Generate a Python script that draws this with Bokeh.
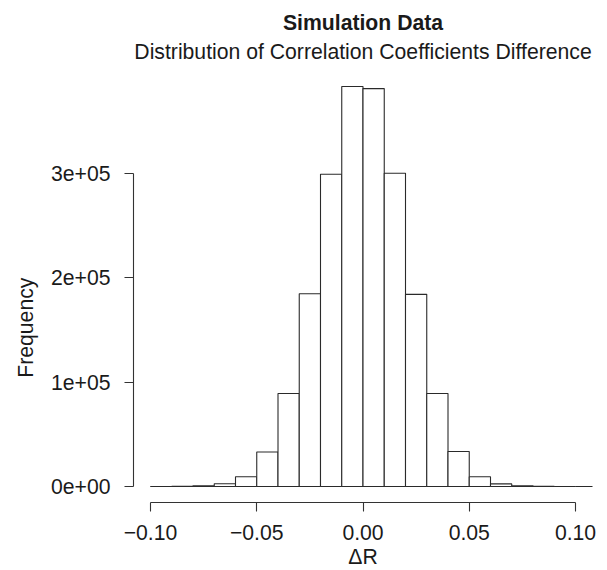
from bokeh.plotting import figure
from bokeh.models import Range1d, FixedTicker, Title
from bokeh.embed import file_html
from bokeh.resources import INLINE

# ---- data ----
bin_left = [-0.10, -0.09, -0.08, -0.07, -0.06, -0.05, -0.04, -0.03, -0.02, -0.01,
            0.00, 0.01, 0.02, 0.03, 0.04, 0.05, 0.06, 0.07, 0.08, 0.09, 0.10]
bin_width = 0.01
counts = [20, 110, 620, 2600, 9400, 33000, 89000, 184500, 299000, 383000,
          381000, 300000, 184000, 89000, 33500, 9400, 2500, 600, 100, 20, 0]

x_ticks = [-0.10, -0.05, 0.00, 0.05, 0.10]
x_tick_labels = ["\u22120.10", "\u22120.05", "0.00", "0.05", "0.10"]
y_ticks = [0, 100000, 200000, 300000]
y_tick_labels = ["0e+00", "1e+05", "2e+05", "3e+05"]

title_main = "Simulation Data"
title_sub = "Distribution of Correlation Coefficients Difference"
x_label = "\u0394R"
y_label = "Frequency"

FONT = "Liberation Sans"
FS = "21.2px"
INK = "#1a1a1a"

ymax = max(counts)
pad = 0.04 * ymax

p = figure(width=599, height=570, output_backend="svg", toolbar_location=None,
           x_range=Range1d(-0.108, 0.108), y_range=Range1d(-pad, ymax + pad),
           min_border_left=133, min_border_right=7, min_border_top=70,
           min_border_bottom=68)
p.outline_line_color = None
p.xgrid.visible = False
p.ygrid.visible = False
p.background_fill_color = "white"
p.border_fill_color = "white"

right = [l + bin_width for l in bin_left]
p.quad(left=bin_left, right=right, bottom=0, top=counts,
       fill_color="white", line_color="#2a2a2a", line_width=1.1)

for ax in (p.xaxis[0], p.yaxis[0]):
    ax.major_tick_out = 9
    ax.major_tick_in = 0
    ax.minor_tick_line_color = None
    ax.axis_line_color = "#333333"
    ax.major_tick_line_color = "#333333"
    ax.axis_line_width = 1.1
    ax.major_tick_line_width = 1.1
    ax.major_label_text_font = FONT
    ax.major_label_text_font_size = FS
    ax.major_label_text_color = INK
    ax.axis_label_text_font = FONT
    ax.axis_label_text_font_size = FS
    ax.axis_label_text_font_style = "normal"
    ax.axis_label_text_color = INK

p.xaxis[0].ticker = FixedTicker(ticks=x_ticks)
p.xaxis[0].major_label_overrides = dict(zip(x_ticks, x_tick_labels))
p.xaxis[0].bounds = (x_ticks[0], x_ticks[-1])
p.xaxis[0].major_label_standoff = 13
p.xaxis[0].axis_label = x_label
p.xaxis[0].axis_label_standoff = 2

p.yaxis[0].ticker = FixedTicker(ticks=y_ticks)
p.yaxis[0].major_label_overrides = dict(zip(y_ticks, y_tick_labels))
p.yaxis[0].bounds = (y_ticks[0], y_ticks[-1])
p.yaxis[0].major_label_standoff = 14
# trailing spaces shift the centred label down along the axis, as in the reference
p.yaxis[0].axis_label = y_label + " " * 14
p.yaxis[0].axis_label_standoff = 11

p.add_layout(Title(text=title_sub, align="center", text_font=FONT,
                   text_font_size=FS, text_font_style="normal",
                   text_color=INK, standoff=16), "above")
p.add_layout(Title(text=title_main, align="center", text_font=FONT,
                   text_font_size=FS, text_font_style="bold",
                   text_color=INK, standoff=-8), "above")

open("out.html", "w").write(file_html(p, INLINE))
